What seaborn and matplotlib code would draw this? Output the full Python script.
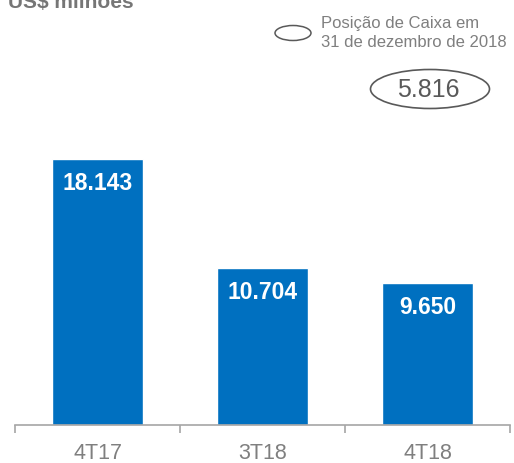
import numpy as np
import matplotlib
matplotlib.use("Agg")
import matplotlib.pyplot as plt
from matplotlib.patches import Ellipse
import pandas as pd
import seaborn as sns

#------------------data-------------------
periods = ["4T17", "3T18", "4T18"]
values = [18143, 10704, 9650]
value_labels = ["18.143", "10.704", "9.650"]
cash_label = "5.816"
legend_text = "Posição de Caixa em\n31 de dezembro de 2018"
unit_text = "US$ milhões"

BLUE = "#0070C0"
GRAY = "#7F7F7F"

def main():
    sns.set_style("white")
    plt.rcParams['font.family'] = ['Liberation Sans', 'DejaVu Sans']

    df = pd.DataFrame({"periodo": periods, "valor": values})

    fig = plt.figure(figsize=(5.14, 4.64), dpi=100)
    ax = fig.add_axes([15/514, 38/464, 495/514, 426/464])
    sns.barplot(data=df, x="periodo", y="valor", color=BLUE, width=0.55,
                saturation=1, ax=ax)
    ax.set_xlim(-0.5, 2.5)
    ax.set_ylim(0, 29050)

    for i, (v, lab) in enumerate(zip(values, value_labels)):
        ax.text(i, v - 1600, lab, ha="center", va="center", color="white",
                fontsize=16.5, fontweight="bold")

    # axis styling
    for s in ["top", "right", "left"]:
        ax.spines[s].set_visible(False)
    ax.spines["bottom"].set_color("#A6A6A6")
    ax.spines["bottom"].set_linewidth(1.2)
    ax.set_yticks([])
    ax.set_xticks([-0.5, 0.5, 1.5, 2.5], minor=False)
    ax.set_xticklabels([])
    ax.tick_params(axis="x", which="major", bottom=True, length=6, width=1.2,
                   color="#A6A6A6", direction="out")
    ax.set_xticks(range(len(periods)), minor=True)
    ax.set_xticklabels(periods, minor=True)
    ax.tick_params(axis="x", which="minor", bottom=True, length=0, labelsize=15.5,
                   labelcolor=GRAY, pad=12)
    ax.set_xlabel("")
    ax.set_ylabel("")

    # unit title cut at the top
    fig.text(8/514, 1 + 7/464, unit_text, ha="left", va="top", fontsize=15,
             color="#767676", fontweight="bold")

    # legend ellipse + text
    fig.patches.append(Ellipse((293/514, 1 - 34/464), 36/514, 15/464,
                               transform=fig.transFigure, fill=False,
                               edgecolor="#595959", linewidth=1.1))
    fig.text(321/514, 1 - 33/464, legend_text, ha="left", va="center",
             fontsize=12, color=GRAY, linespacing=1.3)

    # cash position ellipse
    fig.patches.append(Ellipse((430/514, 1 - 90/464), 119/514, 39/464,
                               transform=fig.transFigure, fill=False,
                               edgecolor="#595959", linewidth=1.2))
    fig.text(428/514, 1 - 90/464, cash_label, ha="center", va="center",
             fontsize=18, color="#595959")

    fig.savefig("out.png", dpi=100)

if __name__ == '__main__':
    main()
